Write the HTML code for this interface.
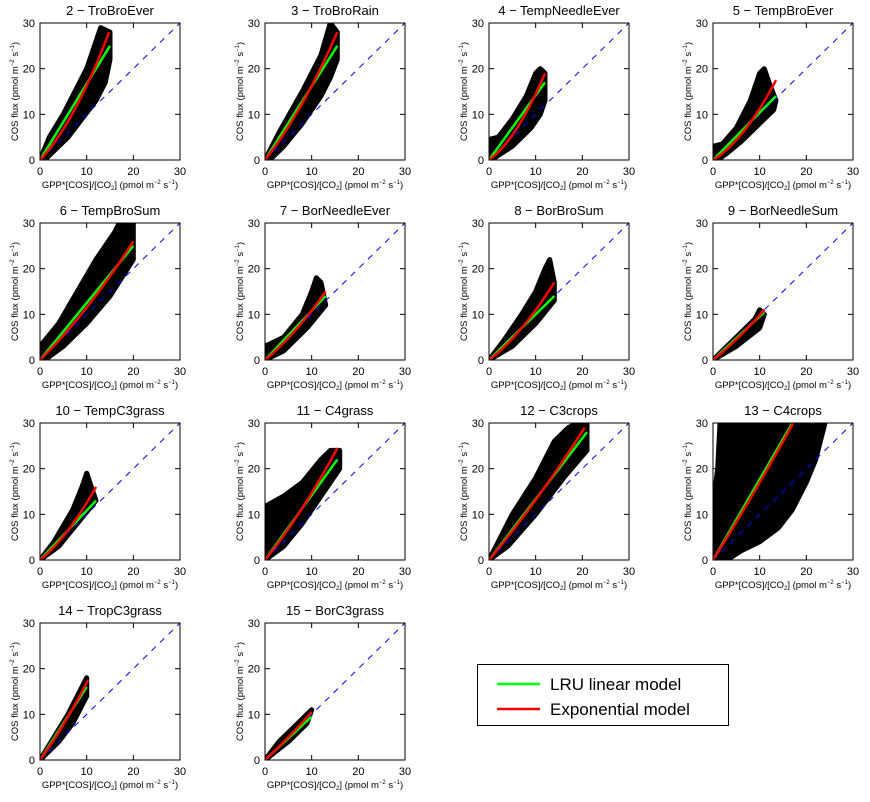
<!DOCTYPE html>
<html><head><meta charset="utf-8"><style>
body{margin:0;background:#fff;}
svg{display:block;font-family:"Liberation Sans",sans-serif;}
</style></head><body>
<svg id="fig" width="870" height="802" viewBox="0 0 870 802"></svg>
<script>
const titles=["2 − TroBroEver","3 − TroBroRain","4 − TempNeedleEver","5 − TempBroEver","6 − TempBroSum","7 − BorNeedleEver","8 − BorBroSum","9 − BorNeedleSum","10 − TempC3grass","11 − C4grass","12 − C3crops","13 − C4crops","14 − TropC3grass","15 − BorC3grass"];
const cloudX=[
[0,2,5,8,10,12,13,15,15,14,12,9,6,3,1],
[0,3,8,12,14,15.5,15.5,14,12,8,4,1],
[0,0,2,5,8,10,11,12,12,11,9,5,2,0.5],
[0,0,2,5,8,10,11,12,13.5,13,10,6,3,1],
[0,0,4,8,12,16,17,20,20,15,10,5,1],
[0,0,4,8,10,11,12,13,9,4],
[0,3,7,10,12,13,14,14,10,5],
[0,3,6,9,10,11,10,5],
[0,3,7,9,10,11,12,8,4],
[0,0,0.5,4,8,12,14,16,16,12,8,4],
[0,5,10,14,17,19,21,21,16,10,4],
[0,0,1,1.5,24,22,20,17,14,10,6,3],
[0,3,6,9,10,10,7,4],
[0,3,6,9,10,9,5]];
const cloudY=[
[0,5,10,16,20,26,29,28,22,17,13,9,5,2,0],
[0,6,15,23,30,28,22,18,14,8,3,0],
[0,4.5,5,9,14,19,20,19,13,10,7,3,1,0],
[0,3,3.5,7,13,19,20,17,13,11,8,4,1.5,0],
[0,3,8,15,22,28,30,30,22,14,8,3,0],
[0,3,5,10,15,18,17,12,7,2],
[0,4,10,15,20,22,17,13,8,3],
[0,3,6,9,11,10,7,3],
[0,4,11,16,19,16,13,8,3],
[0,10,12,14,17,22,24,24,20,14,8,3],
[0,10,18,26,29,30,30,24,18,10,3],
[0,12,20,30,30,22,17,11,7,4,2,0],
[0,5,10,16,18,14,8,4],
[0,4,7,10,11,8,4]];
const greenEndX=[15,15.5,12,13.5,20,13,14,11,12,15.5,21,17,10,10];
const greenEndY=[25,25,17,14,25,14,14,10.5,13,22,28,30,16,9.5];
const redEndX=[14.8,15.5,12,13.5,20,13,14,11,12,15.5,20.5,17.2,10.3,10];
const redEndY=[28,28,19,17.5,26,15,17,11,16,24.5,29,30,17.5,10.5];
const redMidY=[11,12,7,6.5,11.5,6.5,7,5,6.5,11,13.5,14.5,8,5];
const xTicks=[0,10,20,30], yTicks=[0,10,20,30];

const NS="http://www.w3.org/2000/svg";
const svg=document.getElementById('fig');
function mk(tag,attrs,parent){const e=document.createElementNS(NS,tag);for(const k in attrs)e.setAttribute(k,attrs[k]);(parent||svg).appendChild(e);return e;}
const colX=[40,265,489,713], rowY=[23,223,423,623], W=140, H=137;
titles.forEach((t,i)=>{
  const ox=colX[i%4], oy=rowY[Math.floor(i/4)];
  const sx=v=>ox+v/30*W, sy=v=>oy+H-v/30*H;
  const g=mk('g',{});
  
  
  const tt=mk('text',{x:ox+W/2,y:oy-8,'text-anchor':'middle','font-size':13},g);tt.textContent=t;
  
  const clip='c'+i;
  const cp=mk('clipPath',{id:clip},g);mk('rect',{x:ox,y:oy,width:W,height:H},cp);
  const pts=cloudX[i].map((x,j)=>sx(x).toFixed(1)+','+sy(cloudY[i][j]).toFixed(1)).join(' ');
  const cl=mk('polygon',{points:pts,fill:'#000',stroke:'#000','stroke-width':5,'stroke-linejoin':'round','clip-path':`url(#${clip})`},g);
  
  const dl=mk('line',{x1:sx(0),y1:sy(0),x2:sx(30),y2:sy(30),stroke:'#0000ff','stroke-width':1,'stroke-dasharray':'6,6'},g);
  
  const gl=mk('line',{x1:sx(0),y1:sy(0),x2:sx(greenEndX[i]),y2:sy(greenEndY[i]),stroke:'#00ff00','stroke-width':2.5,'clip-path':`url(#${clip})`},g);
  
  const xe=redEndX[i], ye=redEndY[i], ym=redMidY[i];
  const c=(ye-2*ym)*2/(xe*xe), b=(ye-c*xe*xe)/xe;
  let d='';for(let k=0;k<=30;k++){const x=xe*k/30;const y=b*x+c*x*x;d+=(k?'L':'M')+sx(x).toFixed(1)+','+sy(y).toFixed(1);}
  const rl=mk('path',{d:d,fill:'none',stroke:'#ff0000','stroke-width':2.5,'clip-path':`url(#${clip})`},g);
  
  const box=mk('rect',{x:ox,y:oy,width:W,height:H,fill:'none',stroke:'#000','stroke-width':1},g);
  
  xTicks.forEach(v=>{
    mk('line',{x1:sx(v),y1:oy+H,x2:sx(v),y2:oy+H-5,stroke:'#000'},g);
    mk('line',{x1:sx(v),y1:oy,x2:sx(v),y2:oy+5,stroke:'#000'},g);
    const tl=mk('text',{x:sx(v),y:oy+H+15,'text-anchor':'middle','font-size':11},g);tl.textContent=v;
    
  });
  yTicks.forEach(v=>{
    mk('line',{x1:ox,y1:sy(v),x2:ox+5,y2:sy(v),stroke:'#000'},g);
    mk('line',{x1:ox+W,y1:sy(v),x2:ox+W-5,y2:sy(v),stroke:'#000'},g);
    const tl=mk('text',{x:ox-5,y:sy(v)+4,'text-anchor':'end','font-size':11},g);tl.textContent=v;
    
  });
  const xt=mk('text',{x:ox+W/2,y:oy+H+28,'text-anchor':'middle','font-size':9.5},g);
  xt.innerHTML='GPP*[COS]/[CO<tspan font-size="6" dy="2">2</tspan><tspan dy="-2">] (pmol m</tspan><tspan font-size="6" dy="-4">−2</tspan><tspan dy="4"> s</tspan><tspan font-size="6" dy="-4">−1</tspan><tspan dy="4">)</tspan>';
  
  const yt=mk('text',{x:0,y:0,'text-anchor':'middle','font-size':9.5,transform:`translate(${ox-22},${oy+H/2}) rotate(-90)`},g);
  yt.innerHTML='COS flux (pmol m<tspan font-size="6" dy="-4">−2</tspan><tspan dy="4"> s</tspan><tspan font-size="6" dy="-4">−1</tspan><tspan dy="4">)</tspan>';
  
});
</script>
<svg style="position:absolute;left:0;top:0" width="870" height="802">
<g>
<rect x="477.5" y="664.5" width="251" height="61" fill="#fff" stroke="#000"/>
<line x1="497" y1="684" x2="540" y2="684" stroke="#00ff00" stroke-width="2.5"/>
<text x="550" y="690" font-family="Liberation Sans, sans-serif" font-size="17">LRU linear model</text>
<line x1="497" y1="709" x2="540" y2="709" stroke="#ff0000" stroke-width="2.5"/>
<text x="550" y="715" font-family="Liberation Sans, sans-serif" font-size="17">Exponential model</text>
</g>
</svg>
</body></html>
